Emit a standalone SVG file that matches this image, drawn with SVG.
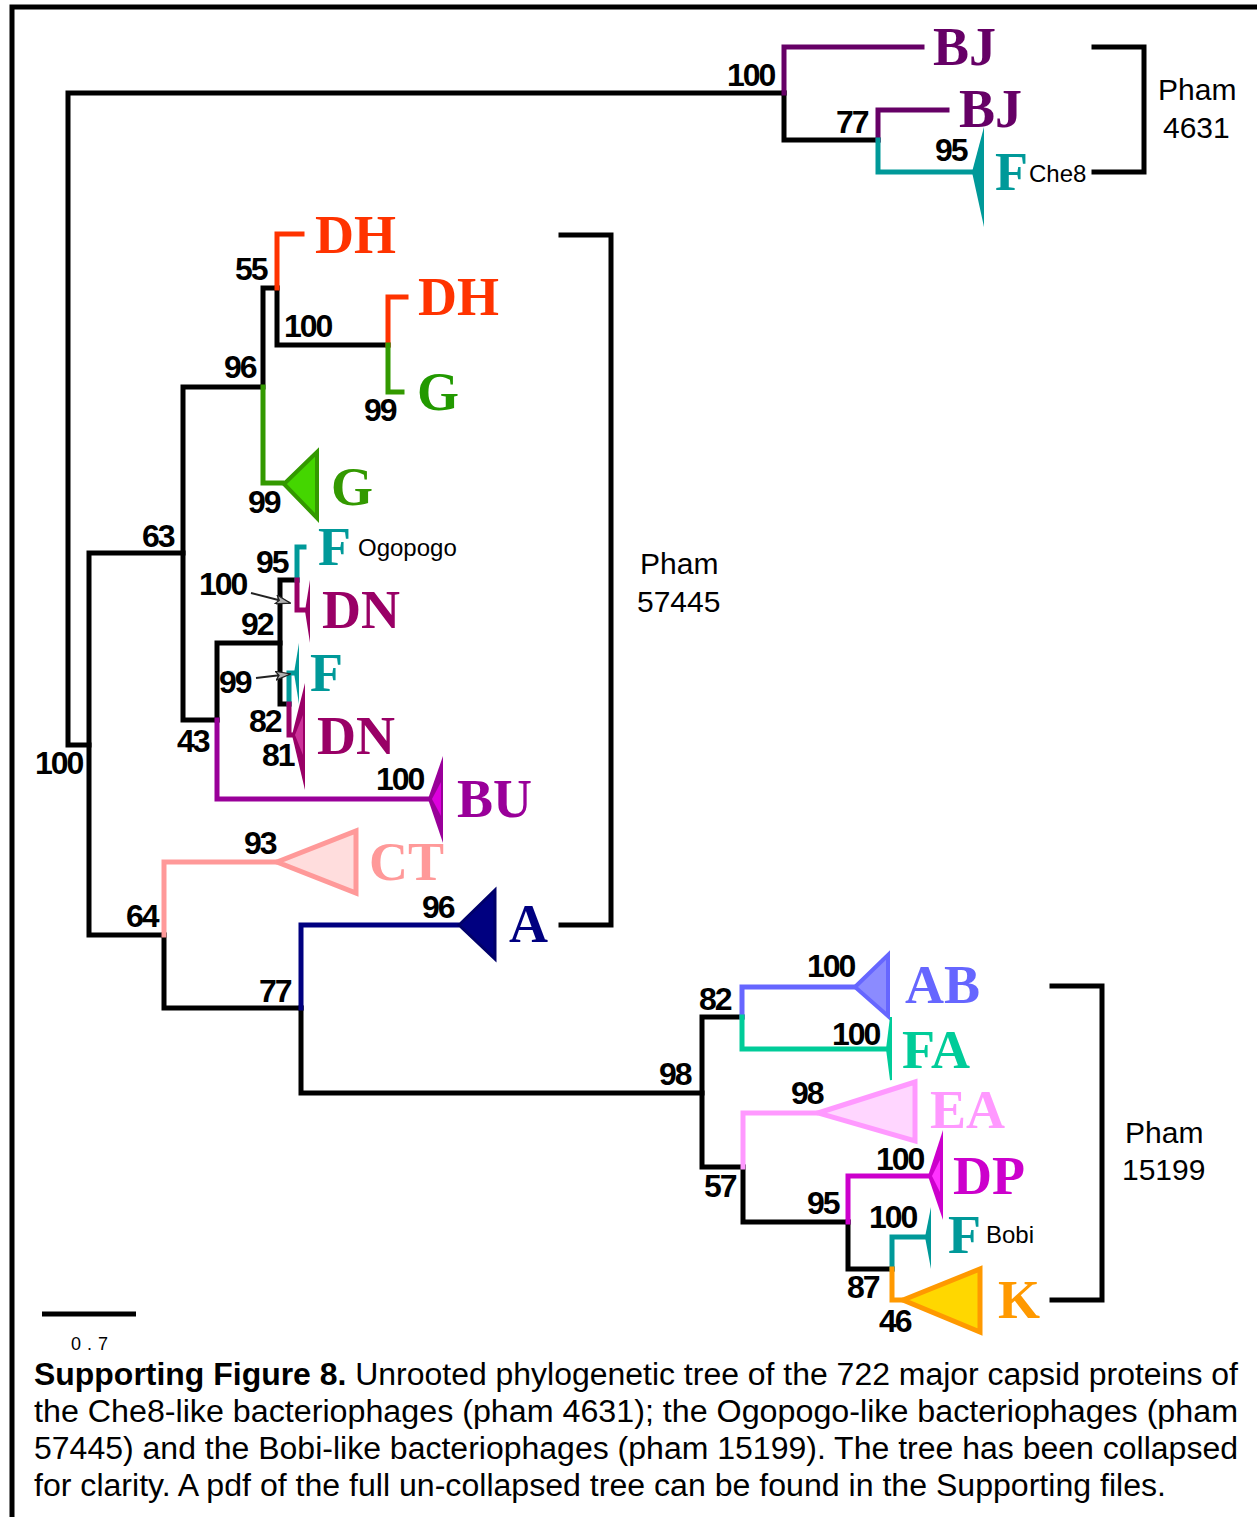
<svg xmlns="http://www.w3.org/2000/svg" width="1257" height="1517" viewBox="0 0 1257 1517">
  <style>
    .br { fill: none; stroke-width: 5; stroke-linejoin: miter; stroke-linecap: square; }
    .k { stroke: #000; }
    .bs { font-family: "Liberation Sans", Arial, sans-serif; font-weight: bold; font-size: 32px; letter-spacing: -2px; fill: #000; }
    .cl { font-family: "Liberation Serif", "Times New Roman", serif; font-weight: bold; font-size: 54px; }
    .sm { font-family: "Liberation Sans", Arial, sans-serif; font-size: 24px; fill: #000; }
    .ph { font-family: "Liberation Sans", Arial, sans-serif; font-size: 30px; fill: #000; }
    .cap { font-family: "Liberation Sans", Arial, sans-serif; font-size: 31px; fill: #000; }
  </style>
  <defs>
    <marker id="ptr" viewBox="0 0 16 10" refX="15" refY="5" markerWidth="16" markerHeight="10" markerUnits="userSpaceOnUse" orient="auto">
      <path d="M0.5 0.5 L15.5 5 L0.5 9.5 L4 5 Z" fill="#b0b0b0" stroke="#222" stroke-width="1.2"/>
    </marker>
  </defs>
  <rect width="1257" height="1517" fill="#fff"/>

  <!-- frame -->
  <g id="frame" fill="none" stroke="#000" stroke-width="5">
    <path d="M12 1517 V7 H1257"/>
  </g>

  <!-- tree branches -->
  <g id="connectors" class="br">
    <!-- black backbone -->
    <path class="k" d="M784 93 H68 V745 H89"/>
    <path class="k" d="M183 553 H89 V935 H164"/>
    <path class="k" d="M262 387 H183 V720 H217"/>
    <path class="k" d="M277 288 H263 V387"/>
    <path class="k" d="M277 288 V345 H388"/>
    <path class="k" d="M217 720 V643 H280"/>
    <path class="k" d="M297 580 H280 V704 H289"/>
    <path class="k" d="M164 935 V1008 H301"/>
    <path class="k" d="M301 1008 V1093 H702"/>
    <path class="k" d="M742 1017 H702 V1167 H743"/>
    <path class="k" d="M743 1167 V1222 H848"/>
    <path class="k" d="M848 1222 V1269 H892"/>
    <path class="k" d="M784 93 V140 H878"/>
    <!-- Pham 4631 -->
    <path stroke="#660066" d="M784 93 V47 H922"/>
    <path stroke="#660066" d="M878 140 V110 H947"/>
    <path stroke="#009999" d="M878 140 V172 H971"/>
    <!-- Pham 57445 -->
    <path stroke="#ff3300" d="M277 288 V234 H302"/>
    <path stroke="#ff3300" d="M388 345 V297 H406"/>
    <path stroke="#339900" d="M263 387 V483 H282"/>
    <path stroke="#339900" d="M388 345 V392 H402"/>
    <path stroke="#009999" d="M297 580 V547 H304"/>
    <path stroke="#990066" d="M297 580 V610 H305"/>
    <path stroke="#009999" d="M289 704 V673 H294"/>
    <path stroke="#990066" d="M289 704 V735 H292"/>
    <path stroke="#990099" d="M217 720 V799 H428"/>
    <path stroke="#ff9999" d="M164 935 V862 H275"/>
    <path stroke="#000080" d="M301 1008 V925 H457"/>
    <!-- Pham 15199 -->
    <path stroke="#6666ff" d="M742 1017 V987 H853"/>
    <path stroke="#00cc99" d="M742 1017 V1049 H887"/>
    <path stroke="#ff99ff" d="M743 1167 V1113 H816"/>
    <path stroke="#cc00cc" d="M848 1222 V1176 H928"/>
    <path stroke="#009999" d="M892 1269 V1237 H925"/>
    <path stroke="#ff9900" d="M892 1269 V1300 H901"/>
  </g>

  <!-- pointer arrows to short internal branches -->
  <g id="pointers" stroke="#222" stroke-width="2" fill="none">
    <path d="M251 593 L290 603" marker-end="url(#ptr)"/>
    <path d="M256 678 L290 674" marker-end="url(#ptr)"/>
  </g>

  <!-- clades -->
  <g id="clade-bj1"><text class="cl" x="933" y="65" fill="#660066">BJ</text></g>
  <g id="clade-bj2"><text class="cl" x="959" y="127" fill="#660066">BJ</text></g>
  <g id="clade-f-che8">
    <polygon points="972,172 984,127 984,227" fill="#009999"/>
    <text class="cl" x="995" y="190" fill="#009999">F</text>
    <text class="sm" x="1029" y="182">Che8</text>
  </g>
  <g id="clade-dh1"><text class="cl" x="315" y="253" fill="#ff3300">DH</text></g>
  <g id="clade-dh2"><text class="cl" x="418" y="315" fill="#ff3300">DH</text></g>
  <g id="clade-g1"><text class="cl" x="417" y="410" fill="#229900">G</text></g>
  <g id="clade-g2">
    <polygon points="284,484 317,452 317,518" fill="#44d600" stroke="#339900" stroke-width="4" stroke-linejoin="miter"/>
    <text class="cl" x="331" y="505" fill="#339900">G</text>
  </g>
  <g id="clade-f-ogopogo">
    <text class="cl" x="318" y="565" fill="#009999">F</text>
    <text class="sm" x="358" y="556">Ogopogo</text>
  </g>
  <g id="clade-dn1">
    <polygon points="305,611 310,580 310,643" fill="#990066"/>
    <text class="cl" x="322" y="628" fill="#990066">DN</text>
  </g>
  <g id="clade-f-mid">
    <polygon points="294,673 299,643 299,704" fill="#009999"/>
    <text class="cl" x="310" y="691" fill="#009999">F</text>
  </g>
  <g id="clade-dn2">
    <polygon points="292,735 305,683 305,790" fill="#990066"/>
    <polygon points="295,735 303,715 303,755" fill="#cc3399"/>
    <text class="cl" x="317" y="754" fill="#990066">DN</text>
  </g>
  <g id="clade-bu">
    <polygon points="428,799 443,756 443,843" fill="#990099"/>
    <polygon points="432,799 441,782 441,816" fill="#dd00dd"/>
    <text class="cl" x="457" y="817" fill="#990099">BU</text>
  </g>
  <g id="clade-ct">
    <polygon points="277,862 356,831 356,893" fill="#ffdddd" stroke="#ff9999" stroke-width="5"/>
    <text class="cl" x="369" y="880" fill="#ff9999">CT</text>
  </g>
  <g id="clade-a">
    <polygon points="459,925 495,890 495,959" fill="#000080" stroke="#00006a" stroke-width="3"/>
    <text class="cl" x="509" y="942" fill="#000080">A</text>
  </g>
  <g id="clade-ab">
    <polygon points="855,987 888,955 888,1016" fill="#8b8bff" stroke="#6666ff" stroke-width="4"/>
    <text class="cl" x="905" y="1003" fill="#6666ff">AB</text>
  </g>
  <g id="clade-fa">
    <polygon points="887,1049 891,1017 891,1080" fill="#00cc99" stroke="#00cc99" stroke-width="2"/>
    <text class="cl" x="902" y="1068" fill="#00cc99">FA</text>
  </g>
  <g id="clade-ea">
    <polygon points="818,1113 915,1082 915,1141" fill="#ffd6ff" stroke="#ff99ff" stroke-width="5"/>
    <text class="cl" x="930" y="1128" fill="#ff99ff">EA</text>
  </g>
  <g id="clade-dp">
    <polygon points="928,1176 943,1130 943,1220" fill="#cc00cc"/>
    <polygon points="932,1176 940,1160 940,1192" fill="#ff33ff"/>
    <text class="cl" x="953" y="1194" fill="#cc00cc">DP</text>
  </g>
  <g id="clade-f-bobi">
    <polygon points="925,1237 931,1207 931,1269" fill="#009999"/>
    <text class="cl" x="948" y="1253" fill="#009999">F</text>
    <text class="sm" x="986" y="1243">Bobi</text>
  </g>
  <g id="clade-k">
    <polygon points="903,1300 980,1269 980,1332" fill="#ffd700" stroke="#ff9900" stroke-width="5"/>
    <text class="cl" x="998" y="1318" fill="#ff9900">K</text>
  </g>

  <!-- bootstrap support values -->
  <g id="support">
    <text class="bs" x="727" y="86">100</text>
    <text class="bs" x="836" y="133">77</text>
    <text class="bs" x="935" y="161">95</text>
    <text class="bs" x="235" y="280">55</text>
    <text class="bs" x="284" y="337">100</text>
    <text class="bs" x="224" y="378">96</text>
    <text class="bs" x="364" y="421">99</text>
    <text class="bs" x="248" y="513">99</text>
    <text class="bs" x="142" y="547">63</text>
    <text class="bs" x="256" y="573">95</text>
    <text class="bs" x="199" y="595">100</text>
    <text class="bs" x="241" y="635">92</text>
    <text class="bs" x="219" y="693">99</text>
    <text class="bs" x="249" y="732">82</text>
    <text class="bs" x="177" y="752">43</text>
    <text class="bs" x="262" y="766">81</text>
    <text class="bs" x="35" y="774">100</text>
    <text class="bs" x="376" y="790">100</text>
    <text class="bs" x="244" y="854">93</text>
    <text class="bs" x="126" y="927">64</text>
    <text class="bs" x="422" y="918">96</text>
    <text class="bs" x="259" y="1002">77</text>
    <text class="bs" x="807" y="977">100</text>
    <text class="bs" x="699" y="1010">82</text>
    <text class="bs" x="832" y="1045">100</text>
    <text class="bs" x="659" y="1085">98</text>
    <text class="bs" x="791" y="1104">98</text>
    <text class="bs" x="876" y="1170">100</text>
    <text class="bs" x="704" y="1197">57</text>
    <text class="bs" x="807" y="1214">95</text>
    <text class="bs" x="869" y="1228">100</text>
    <text class="bs" x="847" y="1298">87</text>
    <text class="bs" x="879" y="1332">46</text>
  </g>

  <!-- pham brackets -->
  <g id="pham-4631">
    <path class="br k" d="M1094 47 H1144 V172 H1094"/>
    <text class="ph" x="1158" y="100">Pham</text>
    <text class="ph" x="1163" y="138">4631</text>
  </g>
  <g id="pham-57445">
    <path class="br k" d="M561 235 H611 V925 H561"/>
    <text class="ph" x="640" y="574">Pham</text>
    <text class="ph" x="637" y="612">57445</text>
  </g>
  <g id="pham-15199">
    <path class="br k" d="M1052 986 H1102 V1300 H1052"/>
    <text class="ph" x="1125" y="1143">Pham</text>
    <text class="ph" x="1122" y="1180">15199</text>
  </g>

  <!-- scale bar -->
  <g id="scale">
    <path d="M42 1314 H136" stroke="#000" stroke-width="5"/>
    <text x="71" y="1350" font-family="Liberation Sans, Arial, sans-serif" font-size="18" letter-spacing="6">0.7</text>
  </g>

  <!-- caption -->
  <g id="caption">
    <text class="cap" x="34" y="1385" textLength="1204" lengthAdjust="spacingAndGlyphs"><tspan font-weight="bold">Supporting Figure 8.</tspan> Unrooted phylogenetic tree of the 722 major capsid proteins of</text>
    <text class="cap" x="34" y="1422" textLength="1204" lengthAdjust="spacingAndGlyphs">the Che8-like bacteriophages (pham 4631); the Ogopogo-like bacteriophages (pham</text>
    <text class="cap" x="34" y="1459" textLength="1204" lengthAdjust="spacingAndGlyphs">57445) and the Bobi-like bacteriophages (pham 15199). The tree has been collapsed</text>
    <text class="cap" x="34" y="1496" textLength="1132" lengthAdjust="spacingAndGlyphs">for clarity. A pdf of the full un-collapsed tree can be found in the Supporting files.</text>
  </g>
</svg>
